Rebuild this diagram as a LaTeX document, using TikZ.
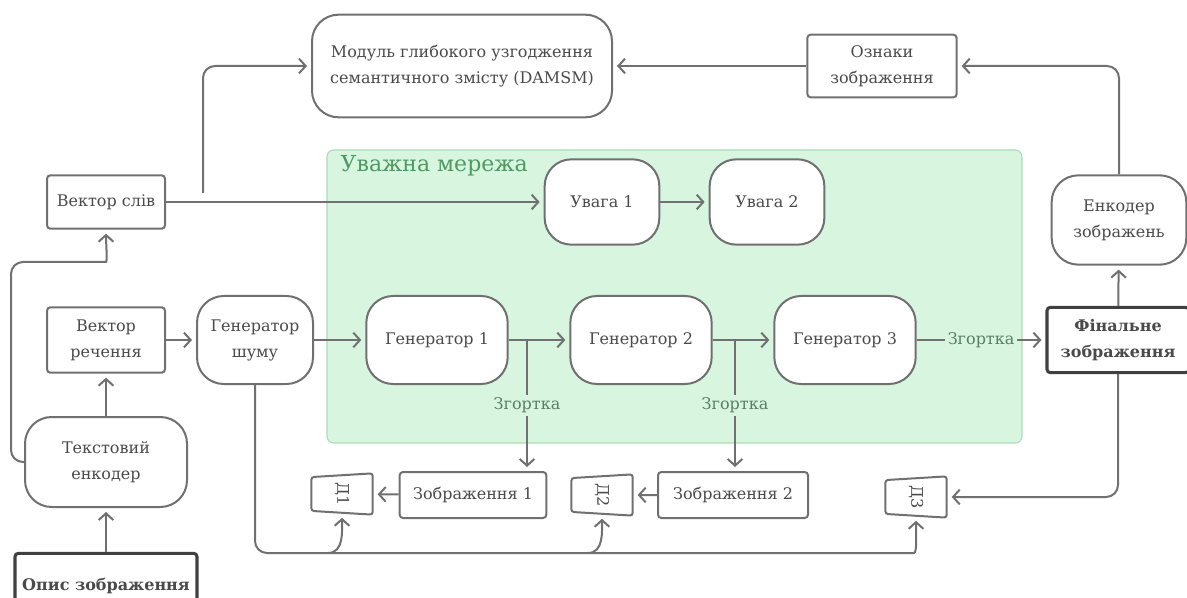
\documentclass[tikz,border=0pt]{standalone}
\usepackage{fontspec}
\setmainfont{DejaVu Serif}
\usetikzlibrary{arrows.meta,shapes.geometric}
\definecolor{linegray}{HTML}{707070}
\definecolor{textgray}{HTML}{4A4A4A}
\definecolor{netfill}{HTML}{D8F5E0}
\definecolor{netdraw}{HTML}{A9DDB6}
\definecolor{nettext}{HTML}{4E9A63}
\definecolor{foldtext}{HTML}{5B7D64}
\tikzset{
  box/.style={draw=linegray, line width=1.5pt, rounded corners=2.5pt, fill=white,
    align=center, text=textgray, inner sep=0pt, font=\fontsize{12}{19.5}\selectfont},
  pill/.style={box, rounded corners=20pt},
  keybox/.style={box, draw=black!75, line width=2.3pt, font=\fontsize{12}{19.5}\selectfont\bfseries},
  disc/.style={box, trapezium, shape border rotate=90, trapezium stretches=true,
    trapezium left angle=80, trapezium right angle=80, rounded corners=2pt},
  arr/.style={draw=linegray, line width=1.5pt, rounded corners=9pt,
    -{Straight Barb[length=5pt,width=11pt]}, shorten >=3pt},
  fold/.style={fill=netfill, text=foldtext, inner sep=2pt, font=\fontsize{12}{14}\selectfont},
}
\begin{document}
\begin{tikzpicture}[x=0.75pt, y=-0.75pt]
  \useasboundingbox (0,0) rectangle (1187,598);
  % attention network area
  \draw[draw=netdraw, fill=netfill, line width=0.8pt, rounded corners=5pt] (327,150) rectangle (1022,443);
  \node[anchor=west, text=nettext, font=\fontsize{16.5}{20}\selectfont] (net) at (336,166) {Уважна мережа};

  % nodes
  \node[pill, minimum width=225pt, minimum height=77pt] (damsm) at (462,66)
    {Модуль глибокого узгодження\\семантичного змісту (DAMSM)};
  \node[box, minimum width=112pt, minimum height=47pt] (feat) at (882,66) {Ознаки\\зображення};
  \node[box, minimum width=88.5pt, minimum height=40pt] (wvec) at (106,202) {Вектор слів};
  \node[pill, minimum width=86pt, minimum height=64pt] (att1) at (602,202) {Увага 1};
  \node[pill, minimum width=86pt, minimum height=64pt] (att2) at (767,202) {Увага 2};
  \node[pill, minimum width=101pt, minimum height=67pt] (imgenc) at (1119,220) {Енкодер\\зображень};
  \node[box, minimum width=88.5pt, minimum height=49pt] (svec) at (106,340) {Вектор\\речення};
  \node[pill, minimum width=87pt, minimum height=66pt] (noise) at (255,340) {Генератор\\шуму};
  \node[pill, minimum width=106pt, minimum height=66pt] (gen1) at (437,340) {Генератор 1};
  \node[pill, minimum width=106pt, minimum height=66pt] (gen2) at (641,340) {Генератор 2};
  \node[pill, minimum width=106pt, minimum height=66pt] (gen3) at (845,340) {Генератор 3};
  \node[keybox, minimum width=106.5pt, minimum height=49pt] (final) at (1118,340) {Фінальне\\зображення};
  \node[box, minimum width=110pt, minimum height=34.5pt] (img1) at (473,495) {Зображення 1};
  \node[box, minimum width=112.5pt, minimum height=34.5pt] (img2) at (733,495) {Зображення 2};
  \node[disc, minimum width=31pt, minimum height=46pt] (d1) at (342,494) {\rotatebox{-90}{Д1}};
  \node[disc, minimum width=31pt, minimum height=46pt] (d2) at (602,495) {\rotatebox{-90}{Д2}};
  \node[disc, minimum width=31pt, minimum height=46pt] (d3) at (916,497) {\rotatebox{-90}{Д3}};
  \node[pill, minimum width=121.5pt, minimum height=67.5pt] (txtenc) at (106,462) {Текстовий\\енкодер};
  \node[keybox, minimum width=136.5pt, minimum height=49pt] (desc) at (106,586) {Опис зображення};

  \coordinate (split) at (203,193);
  \coordinate (wbend) at (94,262);
  \coordinate (fork1) at (527,340);
  \coordinate (fork2) at (735,340);
  \coordinate (bus1) at (328,553);
  \coordinate (bus2) at (588,553);
  \coordinate (bus3) at (902,553);

  % connectors
  \draw[arr] (desc) -- (txtenc);
  \draw[arr] (txtenc) -- (svec);
  \draw[arr] (txtenc.west) -- ++(-13,0) |- (wbend) to[out=0,in=-90] (wvec.south);
  \draw[arr] (wvec) -- (att1);
  \draw[arr] (split) |- (damsm.west);
  \draw[arr] (att1) -- (att2);
  \draw[arr] (svec) -- (noise);
  \draw[arr] (noise) -- (gen1);
  \draw[arr] (gen1) -- (gen2);
  \draw[arr] (gen2) -- (gen3);
  \draw[arr] (fork1) -- node[fold] {Згортка} (img1.north -| fork1);
  \draw[arr] (fork2) -- node[fold] {Згортка} (img2.north -| fork2);
  \draw[arr] (gen3) -- node[fold] {Згортка} (final);
  \draw[arr] (final) -- (imgenc);
  \draw[arr] (imgenc.north) |- (feat.east);
  \draw[arr] (feat) -- (damsm);
  \draw[arr] (img1) -- (d1);
  \draw[arr] (img2) -- (d2);
  \draw[arr] (final.south) |- (d3.east);
  \draw[arr] (noise.south) |- (bus3) to[out=0,in=-90] (d3.south);
  \draw[arr] (bus1) to[out=0,in=-90] (d1.south);
  \draw[arr] (bus2) to[out=0,in=-90] (d2.south);
\end{tikzpicture}
\end{document}
